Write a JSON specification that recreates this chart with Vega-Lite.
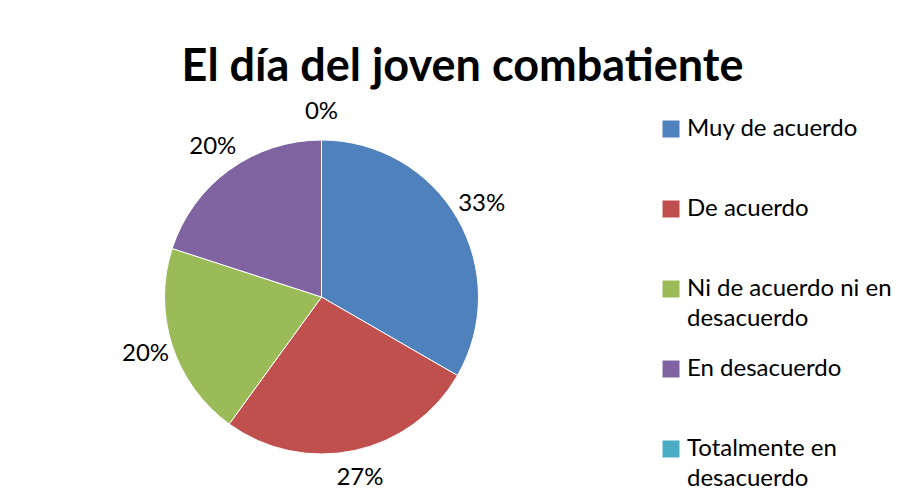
{
  "$schema": "https://vega.github.io/schema/vega-lite/v6.json",
  "width": 643,
  "height": 314,
  "autosize": "none",
  "padding": {"top": 140, "left": 0, "right": 266, "bottom": 39},
  "background": "white",
  "title": {
    "text": "El día del joven combatiente",
    "anchor": "middle",
    "dx": 141,
    "offset": 10,
    "font": "Lato",
    "fontSize": 45,
    "fontWeight": "bold",
    "color": "black"
  },
  "config": {"view": {"stroke": null}, "style": {"guide-label": {"lineHeight": 30}}},
  "data": {
    "values": [
      {"categoria": "Muy de acuerdo", "pct": 0.3333, "orden": 1},
      {"categoria": "De acuerdo", "pct": 0.2667, "orden": 2},
      {"categoria": "Ni de acuerdo ni en desacuerdo", "pct": 0.2, "orden": 3},
      {"categoria": "En desacuerdo", "pct": 0.2, "orden": 4},
      {"categoria": "Totalmente en desacuerdo", "pct": 0, "orden": 5}
    ]
  },
  "encoding": {
    "theta": {"field": "pct", "type": "quantitative", "stack": true},
    "order": {"field": "orden", "type": "quantitative", "sort": "ascending"},
    "color": {
      "field": "categoria",
      "type": "nominal",
      "sort": null,
      "scale": {
        "domain": ["Muy de acuerdo", "De acuerdo", "Ni de acuerdo ni en desacuerdo", "En desacuerdo", "Totalmente en desacuerdo"],
        "range": ["#4F81BD", "#C0504D", "#9BBB59", "#8064A2", "#4BACC6"]
      },
      "legend": {
        "title": null,
        "orient": "none",
        "legendX": 659,
        "legendY": -23,
        "symbolType": "square",
        "symbolSize": 289,
        "symbolStrokeWidth": 0,
        "symbolOpacity": 1,
        "labelFont": "Lato",
        "labelFontSize": 24,
        "labelColor": "black",
        "labelOffset": 4,
        "labelLimit": 300,
        "rowPadding": 26,
        "gridAlign": "all",
        "labelExpr": "datum.label == 'Ni de acuerdo ni en desacuerdo' ? ['Ni de acuerdo ni en', 'desacuerdo'] : datum.label == 'Totalmente en desacuerdo' ? ['Totalmente en', 'desacuerdo'] : datum.label"
      }
    }
  },
  "layer": [
    {
      "mark": {"type": "arc", "outerRadius": 157, "stroke": "white", "strokeWidth": 1}
    },
    {
      "mark": {"type": "text", "radius": 185, "font": "Lato", "fontSize": 24, "color": "black"},
      "encoding": {
        "text": {"field": "pct", "type": "quantitative", "format": ".0%"},
        "color": {"value": "black"}
      }
    }
  ]
}
